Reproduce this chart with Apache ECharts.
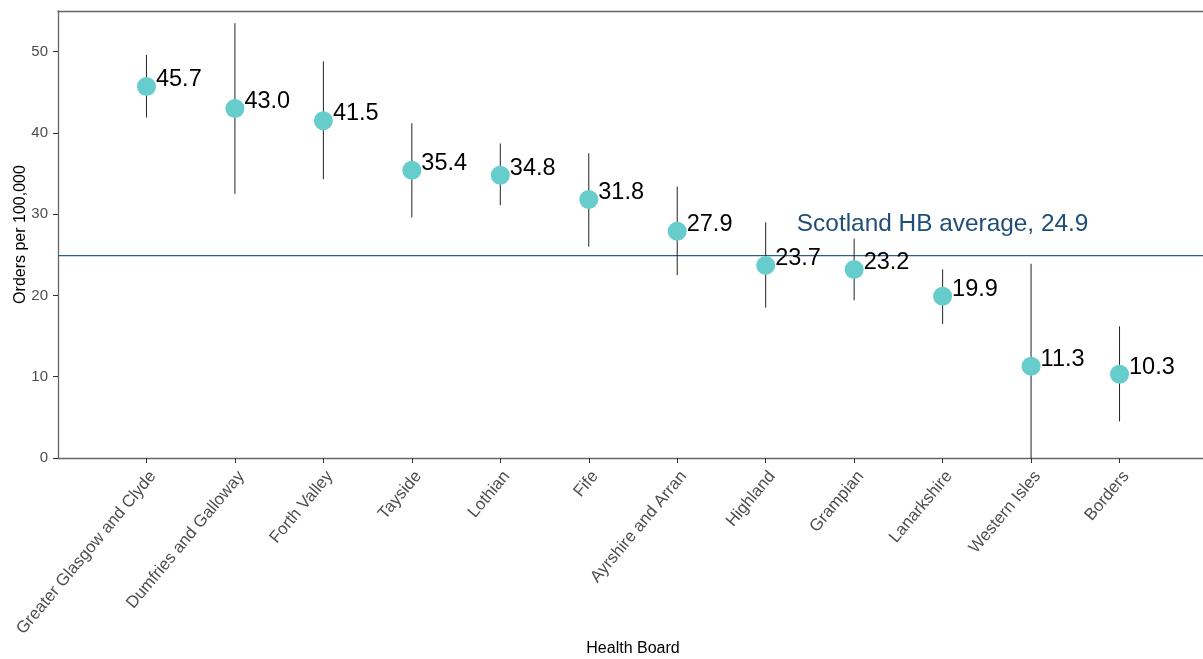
<!DOCTYPE html>
<html>
<head>
<meta charset="utf-8">
<script src="https://cdn.jsdelivr.net/npm/echarts@6/dist/echarts.min.js"></script>
<style>html,body{margin:0;padding:0;background:#fff}#c{width:1203px;height:659px}</style>
</head>
<body>
<div id="c"></div>
<script>
var categories = ["Greater Glasgow and Clyde","Dumfries and Galloway","Forth Valley","Tayside","Lothian","Fife","Ayrshire and Arran","Highland","Grampian","Lanarkshire","Western Isles","Borders"];
var rates = [45.7, 43.0, 41.5, 35.4, 34.8, 31.8, 27.9, 23.7, 23.2, 19.9, 11.3, 10.3];
var lower = [41.9, 32.5, 34.3, 29.6, 31.1, 26.0, 22.5, 18.5, 19.4, 16.5, 0.0, 4.5];
var upper = [49.6, 53.5, 48.8, 41.2, 38.7, 37.5, 33.4, 29.0, 27.0, 23.2, 23.9, 16.2];
var scotlandAvg = 24.9;
var avgLabelCategory = "Lanarkshire";
var yTicks = [0, 10, 20, 30, 40, 50];

var xPos = categories.map(function(c, i){ return i + 1; });
var pointData = rates.map(function(v, i){ return [xPos[i], v]; });
var barData = rates.map(function(v, i){ return [xPos[i], lower[i], upper[i]]; });
var avgIdx = categories.indexOf(avgLabelCategory) + 1;
var xMax = categories.length + 1;

var chart = echarts.init(document.getElementById('c'));
chart.setOption({
  animation: false,
  backgroundColor: '#fff',
  grid: { left: 58, top: 11, width: 1150, height: 447, show: false, containLabel: false, outerBoundsMode: 'none' },
  xAxis: [{
    type: 'value', min: 0, max: xMax, interval: 1,
    name: 'Health Board', nameLocation: 'middle', nameGap: 183, nameMoveOverlap: false,
    nameTextStyle: { color: '#000', fontSize: 16, fontFamily: 'Liberation Sans' },
    axisLine: { show: true, onZero: false, lineStyle: { color: '#666', width: 1.3 } },
    axisTick: { show: true, length: 5, customValues: xPos, lineStyle: { color: '#333' } },
    splitLine: { show: false },
    axisLabel: {
      rotate: 50, margin: 10, verticalAlign: 'top', fontSize: 16.8, color: '#4d4d4d', fontFamily: 'Liberation Sans',
      customValues: xPos, hideOverlap: false,
      formatter: function(v){ return categories[v - 1] || ''; }
    }
  }, {
    type: 'value', min: 0, max: xMax, position: 'top',
    axisLine: { show: true, onZero: false, lineStyle: { color: '#666', width: 1.3 } },
    axisTick: { show: false }, axisLabel: { show: false }, splitLine: { show: false }
  }],
  yAxis: {
    type: 'value', min: 0, max: 55, interval: 10,
    name: 'Orders per 100,000', nameLocation: 'middle', nameGap: 29, nameRotate: 90, nameMoveOverlap: false,
    nameTextStyle: { color: '#000', fontSize: 16, fontFamily: 'Liberation Sans' },
    axisLine: { show: true, lineStyle: { color: '#666', width: 1.3 } },
    axisTick: { show: true, length: 5, customValues: yTicks, lineStyle: { color: '#333' } },
    splitLine: { show: false },
    axisLabel: {
      margin: 10, fontSize: 15, color: '#4d4d4d', fontFamily: 'Liberation Sans',
      customValues: yTicks
    }
  },
  series: [
    {
      type: 'line',
      data: [[0, scotlandAvg], [xMax, scotlandAvg]],
      showSymbol: false, symbol: 'none',
      lineStyle: { color: '#2D5F8B', width: 1.2 },
      silent: true, z: 1
    },
    {
      type: 'custom',
      data: barData,
      renderItem: function(params, api){
        var x = api.value(0);
        var p1 = api.coord([x, api.value(1)]);
        var p2 = api.coord([x, api.value(2)]);
        return { type: 'line', shape: { x1: p1[0], y1: p1[1], x2: p2[0], y2: p2[1] }, style: { stroke: '#222', lineWidth: 1 } };
      },
      z: 2
    },
    {
      type: 'scatter',
      data: pointData,
      symbol: 'circle', symbolSize: 19,
      itemStyle: { color: '#66CCCC', opacity: 1 },
      label: {
        show: true, position: 'right', distance: 0, offset: [0, -7],
        fontSize: 23.5, color: '#000', fontFamily: 'Liberation Sans',
        formatter: function(p){ return p.value[1].toFixed(1); }
      },
      z: 3
    },
    {
      type: 'custom',
      data: [[avgIdx, scotlandAvg]],
      silent: true,
      renderItem: function(params, api){
        var p = api.coord([api.value(0), api.value(1)]);
        return {
          type: 'text', x: p[0], y: p[1] - 31,
          style: {
            text: 'Scotland HB average, ' + scotlandAvg.toFixed(1),
            fill: '#1F4E79', font: '24.4px "Liberation Sans"',
            align: 'center', verticalAlign: 'middle'
          }
        };
      },
      z: 4
    }
  ]
});
</script>
</body>
</html>
